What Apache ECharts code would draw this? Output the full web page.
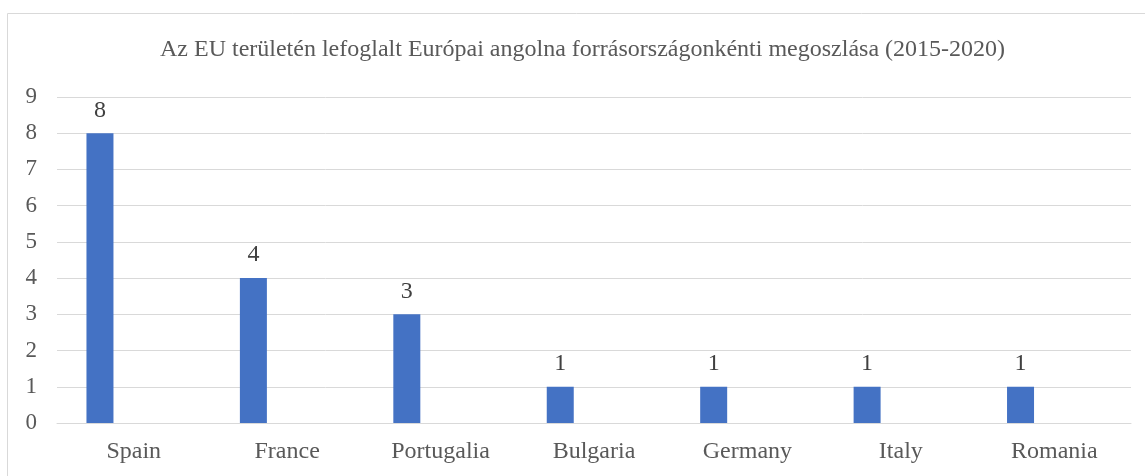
<!DOCTYPE html>
<html>
<head>
<meta charset="utf-8">
<script src="https://cdn.jsdelivr.net/npm/echarts@6/dist/echarts.min.js"></script>
<style>
	html,body{margin:0;padding:0;background:#fff;}
	#chart{width:1145px;height:476px;}
</style>
</head>
<body>
<div id="chart"></div>
<script>
	// data
	var countries = ['Spain', 'France', 'Portugalia', 'Bulgaria', 'Germany', 'Italy', 'Romania'];
	var seizures = [8, 4, 3, 1, 1, 1, 1];
	var emptySeries = ['-', '-', '-', '-', '-', '-', '-'];
	var titleText = 'Az EU területén lefoglalt Európai angolna forrásországonkénti megoszlása (2015-2020)';

	var font = '"Liberation Serif", "Times New Roman", serif';
	var myChart = echarts.init(document.getElementById('chart'));
	var option = {
		animation: false,
		title: {
			text: titleText,
			left: 155,
			top: 33,
			textStyle: {
				fontFamily: font,
				fontSize: 24,
				fontWeight: 'normal',
				color: '#595959'
			}
		},
		graphic: [{
			type: 'rect',
			shape: {x: 7.5, y: 13.5, width: 1200, height: 600},
			style: {fill: 'none', stroke: '#d9d9d9', lineWidth: 1},
			silent: true
		}],
		grid: {
			left: 57,
			right: 14,
			top: 97,
			bottom: 53
		},
		xAxis: {
			type: 'category',
			data: countries,
			axisTick: {show: false},
			axisLine: {lineStyle: {color: '#d9d9d9', width: 1}},
			axisLabel: {
				fontFamily: font,
				fontSize: 24,
				color: '#595959',
				margin: 17
			}
		},
		yAxis: {
			type: 'value',
			min: 0,
			max: 9,
			interval: 1,
			axisLine: {show: false},
			axisTick: {show: false},
			splitLine: {lineStyle: {color: '#d9d9d9', width: 1}},
			axisLabel: {
				fontFamily: font,
				fontSize: 23,
				color: '#595959',
				margin: 20
			}
		},
		series: [{
			name: 'lefoglalás',
			type: 'bar',
			data: seizures,
			barWidth: 27,
			barGap: '150%',
			itemStyle: {color: '#4472c4'},
			label: {
				show: true,
				position: 'top',
				distance: 11,
				fontFamily: font,
				fontSize: 24,
				color: '#404040'
			}
		}, {
			name: 'üres',
			type: 'bar',
			data: emptySeries,
			barWidth: 27
		}]
	};
	myChart.setOption(option);
</script>
</body>
</html>
